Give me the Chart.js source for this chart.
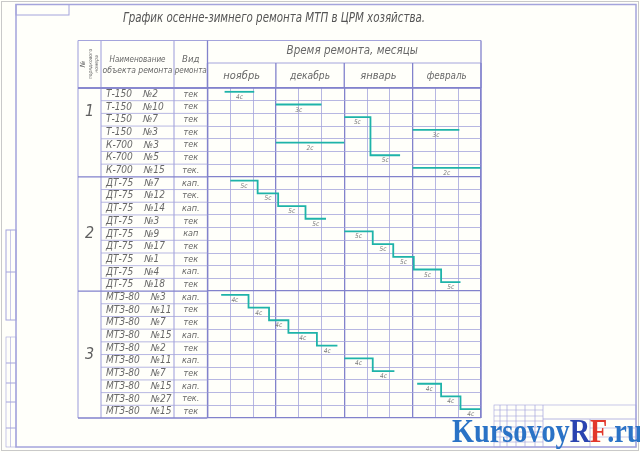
<!DOCTYPE html>
<html lang="ru">
<head>
<meta charset="UTF-8">
<title>График ремонта МТП</title>
<script src="https://cdn.jsdelivr.net/npm/chart.js@4/dist/chart.umd.min.js"></script>
<style>
  body { margin: 0; background: #fffffa; }
  .box { width: 640px; height: 452px; position: relative; }
</style>
</head>
<body>
<div class="box"><canvas id="grafico"></canvas></div>
<script>
// шкала: 12 декад (4 месяца по 3 декады)
const months = ['ноябрь', 'декабрь', 'январь', 'февраль'];
const groupNums = ['1', '2', '3'];
const groupSizes = [7, 9, 10];

const models = ['Т-150', 'Т-150', 'Т-150', 'Т-150', 'К-700', 'К-700', 'К-700',
  'ДТ-75', 'ДТ-75', 'ДТ-75', 'ДТ-75', 'ДТ-75', 'ДТ-75', 'ДТ-75', 'ДТ-75', 'ДТ-75',
  'МТЗ-80', 'МТЗ-80', 'МТЗ-80', 'МТЗ-80', 'МТЗ-80', 'МТЗ-80', 'МТЗ-80', 'МТЗ-80', 'МТЗ-80', 'МТЗ-80'];
const numbers = ['№2', '№10', '№7', '№3', '№3', '№5', '№15',
  '№7', '№12', '№14', '№3', '№9', '№17', '№1', '№4', '№18',
  '№3', '№11', '№7', '№15', '№2', '№11', '№7', '№15', '№27', '№15'];
const repairTypes = ['тек', 'тек', 'тек', 'тек', 'тек', 'тек', 'тек.',
  'кап.', 'тек.', 'кап.', 'тек', 'кап', 'тек', 'тек', 'кап.', 'тек',
  'кап.', 'тек', 'тек', 'кап.', 'тек', 'кап.', 'тек', 'кап.', 'тек.', 'тек'];

// начало и конец ремонта (в декадах от 1 ноября), по строкам
const barStart = [0.75, 3.0, 6.0, 9.0, 3.0, 7.15, 9.0,
  1.0, 2.2, 3.1, 4.3, 6.0, 7.25, 8.15, 9.05, 10.25,
  0.6, 1.8, 2.7, 3.55, 4.8, 6.0, 7.25, 9.2, 10.25, 11.1];
const barEnd = [2.05, 5.0, 7.15, 11.05, 6.0, 8.45, 12.0,
  2.2, 3.1, 4.3, 5.2, 7.25, 8.15, 9.05, 10.25, 11.1,
  1.8, 2.7, 3.55, 4.8, 5.7, 7.25, 8.2, 10.25, 11.1, 12.0];
const crewLabels = ['4с', '3с', '5с', '3с', '2с', '5с', '2с',
  '5с', '5с', '5с', '5с', '5с', '5с', '5с', '5с', '5с',
  '4с', '4с', '4с', '4с', '4с', '4с', '4с', '4с', '4с', '4с'];
// строки одной цепочки соединяются ступенькой
const chainId = [0, 1, 2, 3, 4, 2, 5,
  6, 6, 6, 6, 7, 7, 7, 7, 7,
  8, 8, 8, 8, 8, 9, 9, 10, 10, 10];

const nRows = models.length;
const groupEdges = [0];
groupSizes.forEach(function (n) { groupEdges.push(groupEdges[groupEdges.length - 1] + n); });

// оформление
const LINE = '#a4a4dc', LINE_DARK = '#8282cc', TEAL = '#1eb3a9', INK = '#686868';
const FONT = '"DejaVu Sans Condensed", "Liberation Sans Narrow", "DejaVu Sans", sans-serif';
const COL = [78, 101, 174];   // левые колонки таблицы
const TABLE_TOP = 40.5, SUB_HEAD = 63;
const BAR_DY = 0.3, LABEL_DY = 0.72;

const datasets = [];
for (let r = 0; r < nRows; r++) {
  const id = chainId[r];
  if (!datasets[id]) {
    datasets[id] = { data: [], showLine: true, borderColor: TEAL, borderWidth: 1.8,
      pointRadius: 0, fill: false, clip: false };
  }
  datasets[id].data.push({ x: barStart[r], y: r + BAR_DY }, { x: barEnd[r], y: r + BAR_DY });
}

function txt(ctx, s, x, y, size, align, maxW, color) {
  ctx.font = 'italic ' + size + 'px ' + FONT;
  ctx.fillStyle = color || INK;
  ctx.textAlign = align || 'left';
  ctx.textBaseline = 'middle';
  if (maxW) ctx.fillText(s, x, y, maxW); else ctx.fillText(s, x, y);
}
function ln(ctx, x1, y1, x2, y2, color, w) {
  ctx.strokeStyle = color; ctx.lineWidth = w;
  ctx.beginPath(); ctx.moveTo(x1, y1); ctx.lineTo(x2, y2); ctx.stroke();
}

const sheetPlugin = {
  id: 'sheet',
  beforeDraw(chart) {
    const ctx = chart.ctx;
    ctx.save();
    ctx.fillStyle = '#fffffa';
    ctx.fillRect(0, 0, chart.width, chart.height);
    // рамка листа
    ctx.strokeStyle = '#c9c9c9'; ctx.lineWidth = 1;
    ctx.strokeRect(1.5, 1.5, chart.width - 3, chart.height - 3);
    ctx.strokeStyle = LINE; ctx.lineWidth = 1.5;
    ctx.strokeRect(16, 4.5, 620, 442.5);
    ctx.lineWidth = 1;
    ctx.strokeRect(16, 4.5, 53, 10.5);
    // боковые графы
    ctx.strokeRect(6, 230, 10, 90);
    ln(ctx, 6, 272, 16, 272, LINE, 1);
    ln(ctx, 10.5, 230, 10.5, 320, LINE, 0.6);
    ctx.strokeRect(6, 337, 10, 110);
    [363, 383, 402, 428].forEach(function (y) { ln(ctx, 6, y, 16, y, LINE, 1); });
    ln(ctx, 10.5, 337, 10.5, 447, LINE, 0.6);
    // основная надпись
    ctx.strokeRect(494, 405, 142, 42);
    [500, 507, 516, 525, 535, 543].forEach(function (x) { ln(ctx, x, 405, x, 447, LINE, 0.7); });
    [410, 416, 421, 427, 432, 437, 442].forEach(function (y) { ln(ctx, 494, y, 543, y, LINE, 0.6); });
    ln(ctx, 543, 419, 636, 419, LINE, 0.8);
    ln(ctx, 590, 419, 590, 447, LINE, 0.7);
    ln(ctx, 590, 428, 636, 428, LINE, 0.6);
    ln(ctx, 590, 437, 636, 437, LINE, 0.6);
    ctx.restore();
  },
  afterDraw(chart) {
    const ctx = chart.ctx, xs = chart.scales.x, ys = chart.scales.y, a = chart.chartArea;
    ctx.save();
    // заголовок
    txt(ctx, 'График осенне-зимнего ремонта МТП в ЦРМ хозяйства.', 274, 18, 14, 'center', 302, '#555');

    // шапка таблицы
    ln(ctx, COL[0], TABLE_TOP, a.right, TABLE_TOP, LINE, 1.2);
    ln(ctx, a.left, SUB_HEAD, a.right, SUB_HEAD, LINE, 1);
    ln(ctx, COL[0], a.top, a.right, a.top, LINE_DARK, 1.3);
    COL.forEach(function (x) { ln(ctx, x, TABLE_TOP, x, a.bottom, LINE, 1.1); });
    ln(ctx, a.left, TABLE_TOP, a.left, a.bottom, LINE_DARK, 1.3);
    ln(ctx, a.right, TABLE_TOP, a.right, a.bottom, LINE_DARK, 1.3);
    for (let m = 0; m <= months.length; m++) {
      const x = xs.getPixelForValue(m * 3);
      ln(ctx, x, SUB_HEAD, x, a.top, LINE_DARK, 1.3);
    }
    txt(ctx, 'Время ремонта, месяцы', (a.left + a.right) / 2 + 8, 51, 11.5, 'center', 148);
    months.forEach(function (m, i) {
      txt(ctx, m, xs.getPixelForValue(i * 3 + 1.5), 76, 11, 'center', 40);
    });
    txt(ctx, 'Наименование', (COL[1] + COL[2]) / 2, 60, 9.5, 'center', 56);
    txt(ctx, 'объекта ремонта', (COL[1] + COL[2]) / 2, 71, 9.5, 'center', 70);
    txt(ctx, 'Вид', (COL[2] + a.left) / 2, 60, 9.5, 'center', 30);
    txt(ctx, 'ремонта', (COL[2] + a.left) / 2, 71, 9.5, 'center', 32);
    // вертикальная надпись в первой колонке
    ctx.save();
    ctx.translate(COL[0] + 5, 64);
    ctx.rotate(-Math.PI / 2);
    txt(ctx, '№', 0, 0, 7, 'center');
    txt(ctx, 'порядкового', 0, 7.5, 5, 'center', 44);
    txt(ctx, 'номера', 0, 14, 5, 'center', 40);
    ctx.restore();

    // строки таблицы
    for (let r = 0; r <= nRows; r++) {
      const y = ys.getPixelForValue(r);
      const edge = groupEdges.indexOf(r) >= 0;
      ln(ctx, edge ? COL[0] : COL[1], y, a.left, y, edge ? LINE_DARK : LINE, edge ? 1.3 : 0.8);
    }
    for (let r = 0; r < nRows; r++) {
      const y = ys.getPixelForValue(r + 0.5);
      txt(ctx, models[r], COL[1] + 5, y, 10, 'left');
      const w = ctx.measureText(models[r]).width;
      txt(ctx, numbers[r], COL[1] + 5 + w + 11, y, 10, 'left');
      txt(ctx, repairTypes[r], (COL[2] + a.left) / 2, y, 9, 'center');
      // длительность под отрезком
      txt(ctx, crewLabels[r], xs.getPixelForValue((barStart[r] + barEnd[r]) / 2), ys.getPixelForValue(r + LABEL_DY), 6.5, 'center', null, '#7a7a7a');
    }
    groupNums.forEach(function (g, i) {
      const mid = i === 0 ? 1.9 : (groupEdges[i] + groupEdges[i + 1]) / 2;
      txt(ctx, g, (COL[0] + COL[1]) / 2, ys.getPixelForValue(mid), 16, 'center', null, '#606060');
    });

    // водяной знак
    const parts = [['Kursovoy', '#2a73c6'], ['R', '#2a44b0'], ['F', '#e2372b'], ['.ru', '#2a73c6']];
    ctx.font = 'bold 33px "Liberation Serif", "DejaVu Serif", serif';
    ctx.textBaseline = 'alphabetic'; ctx.textAlign = 'left';
    const full = ctx.measureText('KursovoyRF.ru').width;
    const k = 188 / full;
    ctx.save();
    ctx.translate(452, 442);
    ctx.scale(k, 1);
    let px = 0;
    parts.forEach(function (p) {
      ctx.fillStyle = p[1];
      ctx.fillText(p[0], px, 0);
      px += ctx.measureText(p[0]).width;
    });
    ctx.restore();
    ctx.restore();
  }
};

new Chart(document.getElementById('grafico'), {
  type: 'scatter',
  data: { datasets: datasets },
  options: {
    responsive: true,
    maintainAspectRatio: false,
    animation: false,
    layout: { padding: { left: 207.5, right: 159, top: 88, bottom: 34 } },
    plugins: { legend: { display: false }, tooltip: { enabled: false }, title: { display: false } },
    scales: {
      x: {
        type: 'linear', min: 0, max: months.length * 3,
        afterFit: function (s) { s.height = 0; },
        ticks: { display: false, stepSize: 1, maxTicksLimit: 40 },
        border: { display: false },
        grid: {
          drawTicks: false,
          color: function (c) { return c.tick && c.tick.value % 3 === 0 ? LINE_DARK : LINE; },
          lineWidth: function (c) { return c.tick && c.tick.value % 3 === 0 ? 1.3 : 0.8; }
        }
      },
      y: {
        type: 'linear', min: 0, max: nRows, reverse: true,
        afterFit: function (s) { s.width = 0; },
        ticks: { display: false, stepSize: 1, maxTicksLimit: 60 },
        border: { display: false },
        grid: {
          drawTicks: false,
          color: function (c) { return c.tick && groupEdges.indexOf(c.tick.value) >= 0 ? LINE_DARK : LINE; },
          lineWidth: function (c) { return c.tick && groupEdges.indexOf(c.tick.value) >= 0 ? 1.3 : 0.8; }
        }
      }
    }
  },
  plugins: [sheetPlugin]
});
</script>
</body>
</html>
